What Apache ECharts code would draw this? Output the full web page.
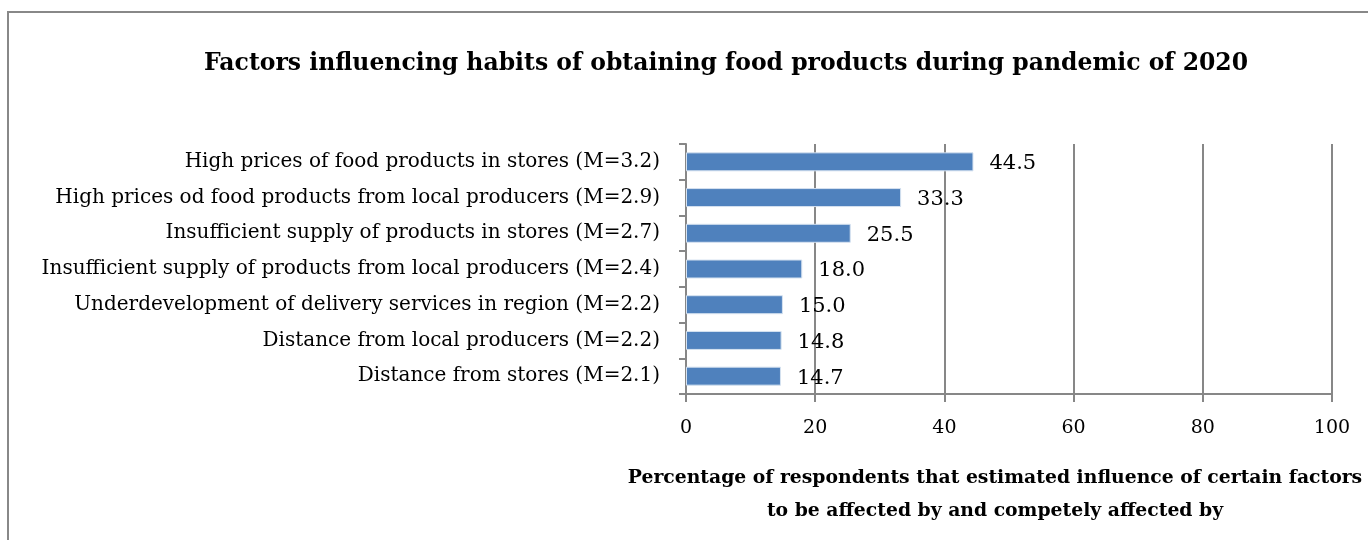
<!DOCTYPE html>
<html lang="en">
<head>
    <meta charset="utf-8">
    <title>Factors influencing habits</title>
    <script src="https://cdn.jsdelivr.net/npm/echarts@6/dist/echarts.min.js"></script>
</head>
<body style="margin:0; background:#fff;">
<div id="main" style="width:1368px; height:540px;"></div>
<script type="text/javascript">
    // data, top to bottom
    const categories = [
        'High prices of food products in stores (M=3.2)',
        'High prices od food products from local producers (M=2.9)',
        'Insufficient supply of products in stores (M=2.7)',
        'Insufficient supply of products from local producers (M=2.4)',
        'Underdevelopment of delivery services in region (M=2.2)',
        'Distance from local producers (M=2.2)',
        'Distance from stores (M=2.1)'
    ];
    const values = [44.5, 33.3, 25.5, 18.0, 15.0, 14.8, 14.7];
    const xTicks = [0, 20, 40, 60, 80, 100];

    const serif = '"DejaVu Serif", "Liberation Serif", serif';
    const gray = '#878787';

    let myChart = echarts.init(document.getElementById('main'));
    const option = {
        backgroundColor: '#fff',
        animation: false,
        title: {
            text: 'Factors influencing habits of obtaining food products during pandemic of 2020',
            left: 721,
            textAlign: 'center',
            top: 47,
            textStyle: { fontFamily: serif, fontSize: 23.5, fontWeight: 'bold', color: '#000' }
        },
        graphic: [{
            type: 'rect',
            shape: { x: 8, y: 12, width: 1400, height: 560 },
            style: { fill: 'none', stroke: '#888', lineWidth: 2 }
        }],
        grid: { left: 686, right: 36, top: 144, bottom: 146, outerBoundsMode: 'none' },
        xAxis: {
            type: 'value',
            min: xTicks[0],
            max: xTicks[xTicks.length - 1],
            interval: 20,
            name: 'Percentage of respondents that estimated influence of certain factors\nto be affected by and competely affected by',
            nameLocation: 'middle',
            nameGap: 68,
            nameTextStyle: { fontFamily: serif, fontSize: 18.8, fontWeight: 'bold', color: '#000', lineHeight: 33, padding: [0, 28, 0, 0] },
            axisLine: { show: true, lineStyle: { color: gray, width: 2 } },
            axisTick: { show: true, length: 8, lineStyle: { color: gray, width: 2 } },
            axisLabel: { fontFamily: serif, fontSize: 19, color: '#000', margin: 25 },
            splitLine: { show: true, lineStyle: { color: gray, width: 2 } }
        },
        yAxis: {
            type: 'category',
            inverse: true,
            data: categories,
            axisLine: { show: true, lineStyle: { color: gray, width: 2 } },
            axisTick: { show: true, length: 7, lineStyle: { color: gray, width: 2 } },
            axisLabel: { fontFamily: serif, fontSize: 20, color: '#000', margin: 26 }
        },
        series: [{
            type: 'bar',
            data: values,
            barWidth: 19,
            itemStyle: { color: '#4f81bd', borderColor: '#d6e2f0', borderWidth: 1 },
            label: {
                show: true,
                position: 'right',
                distance: 16,
                fontFamily: serif,
                fontSize: 21,
                color: '#000',
                offset: [0, 2],
                formatter: function (p) { return p.value.toFixed(1); }
            }
        }]
    };
    myChart.setOption(option);
</script>
</body>
</html>
